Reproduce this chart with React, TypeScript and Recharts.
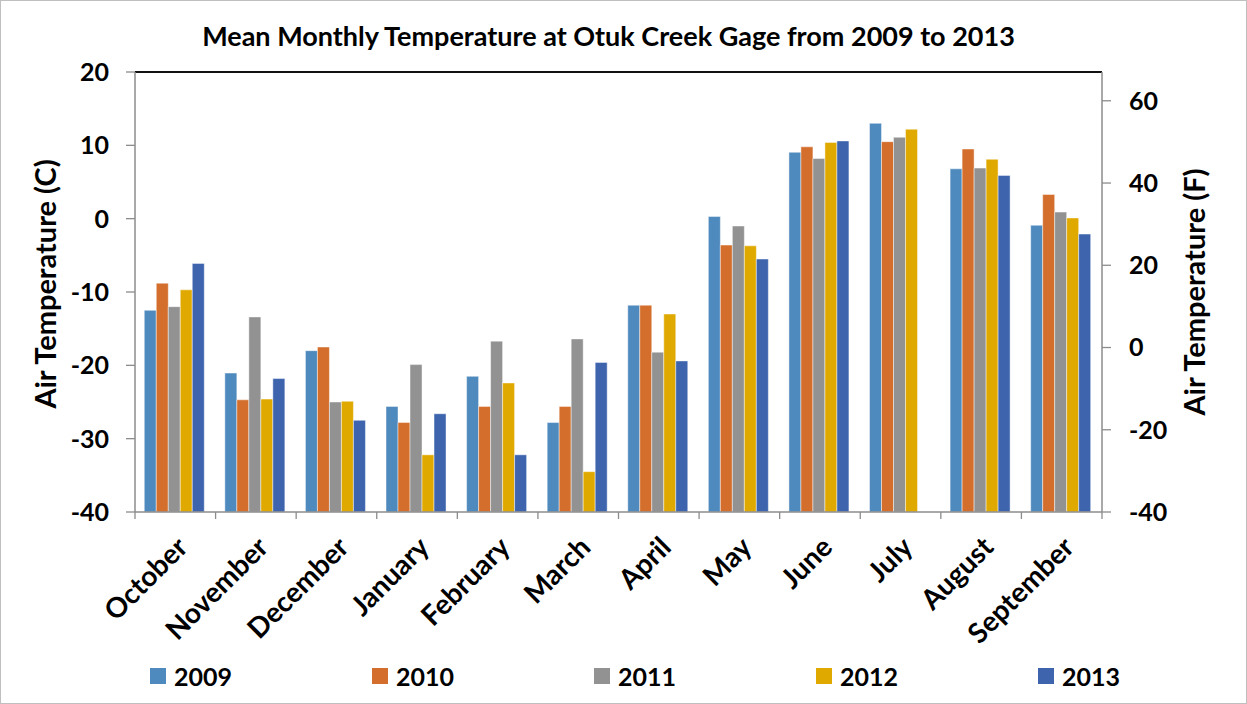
import React from 'react';
import { BarChart, Bar, XAxis, YAxis, ReferenceLine, Legend } from 'recharts';

const months = ['October', 'November', 'December', 'January', 'February', 'March', 'April', 'May', 'June', 'July', 'August', 'September'];
const years = ['2009', '2010', '2011', '2012', '2013'];
const colors = ['#4F8ABE', '#D36E2C', '#929292', '#E0A900', '#3D64AD'];

const y2009 = [-12.5, -21.05, -18.0, -25.6, -21.5, -27.8, -11.8, 0.3, 9.05, 13.0, 6.8, -0.9];
const y2010 = [-8.8, -24.7, -17.5, -27.8, -25.6, -25.6, -11.8, -3.6, 9.8, 10.5, 9.5, 3.3];
const y2011 = [-12.0, -13.4, -25.0, -19.9, -16.7, -16.4, -18.2, -1.0, 8.2, 11.1, 6.9, 0.9];
const y2012 = [-9.7, -24.6, -24.9, -32.2, -22.4, -34.5, -13.0, -3.7, 10.4, 12.2, 8.1, 0.1];
const y2013 = [-6.1, -21.8, -27.5, -26.6, -32.2, -19.6, -19.4, -5.5, 10.6, null, 5.9, -2.1];

const cTicks = [-40, -30, -20, -10, 0, 10, 20];
const fTicks = [-40, -20, 0, 20, 40, 60];
const AXIS_MIN = -40;

const series = [y2009, y2010, y2011, y2012, y2013];
const data = months.map((m, i) => {
  const row: any = { month: m };
  years.forEach((y, k) => { row['y' + y] = series[k][i]; });
  return row;
});

const FONT = 'Lato, "Open Sans", sans-serif';
const AXIS_GRAY = '#8C8C8C';

const XTick = (props: any) => {
  const { x, y, payload, index, width } = props;
  const half = payload && payload.offset ? payload.offset : width / months.length / 2;
  const isLast = index === months.length - 1;
  return (
    <g>
      <line x1={x - half} x2={x - half} y1={y} y2={y + 7} stroke={AXIS_GRAY} strokeWidth={1.3} />
      {isLast && <line x1={x + half} x2={x + half} y1={y} y2={y + 7} stroke={AXIS_GRAY} strokeWidth={1.3} />}
      <g transform={`translate(${x + 14},${y + 37})`}>
        <text x={0} y={0} textAnchor="end" transform="rotate(-45)" fontFamily={FONT} fontWeight={700} fontSize={28} fill="#000">
          {payload.value}
        </text>
      </g>
    </g>
  );
};

const LegendContent = () => (
  <div style={{ position: 'relative', width: 1247, height: 50 }}>
    {years.map((y, i) => (
      <div key={y} style={{ position: 'absolute', left: 150 + i * 222, top: 7, display: 'flex', alignItems: 'center', height: 30 }}>
        <div style={{ width: 16, height: 16, background: colors[i], marginRight: 8 }} />
        <span style={{ fontFamily: FONT, fontWeight: 700, fontSize: 25, color: '#000' }}>{y}</span>
      </div>
    ))}
  </div>
);

export default function App() {
  return (
    <div style={{ position: 'absolute', left: 0, top: 0, width: 1247, height: 704, background: '#fff', boxSizing: 'border-box', border: '1px solid #BFBFBF' }}>
      <div style={{ position: 'absolute', left: 0, top: 19, width: 1215, textAlign: 'center', fontFamily: FONT, fontWeight: 700, fontSize: 27, color: '#000', lineHeight: '32px' }}>
        Mean Monthly Temperature at Otuk Creek Gage from 2009 to 2013
      </div>
      <div style={{ position: 'absolute', left: -1, top: -1 }}>
        <BarChart
          width={1247}
          height={704}
          data={data}
          margin={{ top: 72, right: 0, bottom: 0, left: 0 }}
          barCategoryGap="11.5%"
          barGap={0}
        >
          <XAxis
            xAxisId="cat"
            dataKey="month"
            interval={0}
            tickLine={false}
            tickSize={0}
            tickMargin={0}
            axisLine={{ stroke: AXIS_GRAY, strokeWidth: 1.5 }}
            tick={<XTick />}
            height={142}
          />
          <YAxis
            yAxisId="left"
            domain={[AXIS_MIN, 20]}
            allowDataOverflow
            ticks={cTicks}
            interval={0}
            width={135}
            tickSize={9}
            tickMargin={17}
            axisLine={{ stroke: AXIS_GRAY, strokeWidth: 1.5 }}
            tickLine={{ stroke: AXIS_GRAY, strokeWidth: 1.3 }}
            tick={{ fontFamily: FONT, fontWeight: 700, fontSize: 25, fill: '#000' }}
            label={{ value: 'Air Temperature (C)', angle: -90, position: 'center', dx: -22, dy: -8, style: { fontFamily: FONT, fontWeight: 700, fontSize: 29, fill: '#000', textAnchor: 'middle' } }}
          />
          <YAxis
            yAxisId="right"
            orientation="right"
            domain={[AXIS_MIN, 67]}
            allowDataOverflow
            ticks={fTicks}
            interval={0}
            width={145}
            tickSize={9}
            tickMargin={18}
            axisLine={{ stroke: AXIS_GRAY, strokeWidth: 1.5 }}
            tickLine={{ stroke: AXIS_GRAY, strokeWidth: 1.3 }}
            tick={{ fontFamily: FONT, fontWeight: 700, fontSize: 25, fill: '#000', textAnchor: 'start' }}
            label={{ value: 'Air Temperature (F)', angle: -90, position: 'center', dx: 20, style: { fontFamily: FONT, fontWeight: 700, fontSize: 29, fill: '#000', textAnchor: 'middle' } }}
          />
          {years.map((y, i) => (
            <Bar
              key={y}
              xAxisId="cat"
              yAxisId="left"
              name={y}
              dataKey={(d: any) => (d['y' + y] == null ? null : [AXIS_MIN, d['y' + y]])}
              fill={colors[i]}
              stroke="rgba(255,255,255,0.45)"
              strokeWidth={1}
              isAnimationActive={false}
            />
          ))}
          <ReferenceLine xAxisId="cat" yAxisId="left" y={20} stroke="#111" strokeWidth={2} />
          <Legend
            verticalAlign="bottom"
            content={<LegendContent />}
            wrapperStyle={{ height: 50, width: 1247, left: 0 }}
          />
        </BarChart>
      </div>
    </div>
  );
}
